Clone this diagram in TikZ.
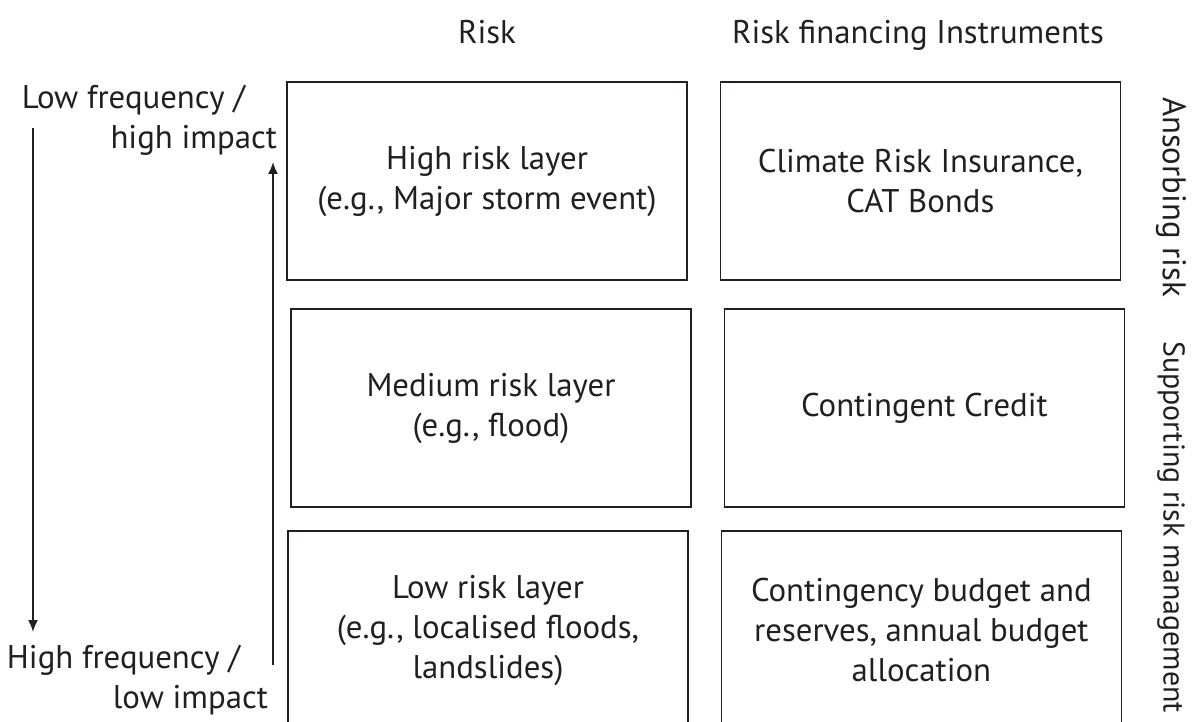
\documentclass[tikz,border=0pt]{standalone}
\usepackage{fontspec}
\setmainfont{PT Sans}
\usetikzlibrary{positioning}
\usetikzlibrary{arrows.meta}
\definecolor{ink}{HTML}{231F20}

\tikzset{
    layer/.style = {draw = ink, line width = 0.7pt, minimum width = 200pt,
        minimum height = 99pt, align = center, text = ink},
    label/.style = {text = ink, align = center},
    axis/.style = {draw = ink, line width = 0.9pt, -{Latex[length=6pt,width=5pt]}}
}

\begin{document}
\begin{tikzpicture}[x = 0.5pt, y = -0.5pt, font = \fontsize{16.4pt}{20pt}\selectfont]
    \useasboundingbox[clip] (0,0) rectangle (1196,722);

    % headings
    \node[label, anchor = base] (hRisk) at (487,44) {Risk};
    \node[label, anchor = base] (hInst) at (918,44) {Risk financing Instruments};

    % risk layers
    \node[layer] (hi)  at (487,181) {High risk layer\\(e.g., Major storm event)};
    \node[layer] (mid) at (491,408) {Medium risk layer\\(e.g., flood)};
    \node[layer] (lo)  at (488,630) {Low risk layer\\(e.g., localised floods,\\landslides)};

    % instruments
    \node[layer] (ins) [right = 16pt of hi]  {Climate Risk Insurance,\\CAT Bonds};
    \node[layer] (cc)  [right = 16pt of mid] {Contingent Credit};
    \node[layer] (bud) [right = 16pt of lo]  {Contingency budget and\\reserves, annual budget\\allocation};

    % side labels
    \node[label, rotate = -90] (absorb)  at (1171,197) {Ansorbing risk};
    \node[label, rotate = -90, font = \fontsize{15pt}{20pt}\selectfont]
        (support) at (1171,527) {Supporting risk management};

    \node[label, anchor = east] (lowF) at (252,100) {Low frequency /};
    \node[label, anchor = east] (lowI) at (284,140) {high impact};
    \node[label, anchor = east] (hiF)  at (247,660) {High frequency /};
    \node[label, anchor = east] (hiI)  at (275,700) {low impact};

    % arrows
    \coordinate (dnA) at (33,128);
    \coordinate (dnB) at (33,632);
    \coordinate (upA) at (273,665);
    \coordinate (upB) at (273,162);
    \draw[axis] (dnA) -- (dnB);
    \draw[axis] (upA) -- (upB);
\end{tikzpicture}
\end{document}
